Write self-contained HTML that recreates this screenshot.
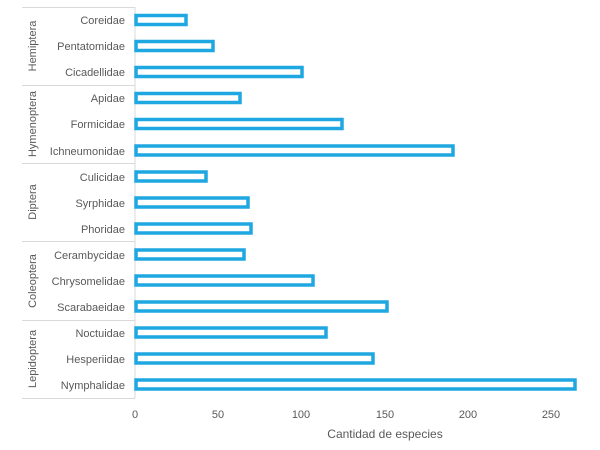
<!DOCTYPE html>
<html><head><style>
body{margin:0;background:#fff;}
svg{display:block;font-family:"Liberation Sans",sans-serif;}
</style></head><body>
<svg width="600" height="450" xmlns="http://www.w3.org/2000/svg">
<g stroke="#d9d9d9" stroke-width="1">
<line x1="135" y1="7" x2="135" y2="398"/>
<line x1="22" y1="7.5" x2="135" y2="7.5"/>
<line x1="22" y1="85.5" x2="135" y2="85.5"/>
<line x1="22" y1="163.5" x2="135" y2="163.5"/>
<line x1="22" y1="241.5" x2="135" y2="241.5"/>
<line x1="22" y1="320.5" x2="135" y2="320.5"/>
<line x1="22" y1="398.5" x2="135" y2="398.5"/>
</g>
<g fill="#fff" stroke="#1ea7e1" stroke-width="3.5">
<rect x="136" y="15.5" width="50" height="9"/>
<rect x="136" y="41.5" width="77" height="9"/>
<rect x="136" y="67.5" width="166" height="9"/>
<rect x="136" y="93.5" width="104" height="9"/>
<rect x="136" y="119.5" width="206" height="9"/>
<rect x="136" y="146" width="317" height="9"/>
<rect x="136" y="172" width="70" height="9"/>
<rect x="136" y="198" width="112" height="9"/>
<rect x="136" y="224" width="115" height="9"/>
<rect x="136" y="250" width="108" height="9"/>
<rect x="136" y="276" width="177" height="9"/>
<rect x="136" y="302" width="251" height="9"/>
<rect x="136" y="328" width="190" height="9"/>
<rect x="136" y="354" width="237" height="9"/>
<rect x="136" y="380" width="439" height="9"/>
</g>
<g fill="#595959" font-size="11" text-anchor="end">
<text x="125" y="24">Coreidae</text>
<text x="125" y="50">Pentatomidae</text>
<text x="125" y="76">Cicadellidae</text>
<text x="125" y="102">Apidae</text>
<text x="125" y="128">Formicidae</text>
<text x="125" y="155">Ichneumonidae</text>
<text x="125" y="181">Culicidae</text>
<text x="125" y="207">Syrphidae</text>
<text x="125" y="233">Phoridae</text>
<text x="125" y="259">Cerambycidae</text>
<text x="125" y="285">Chrysomelidae</text>
<text x="125" y="311">Scarabaeidae</text>
<text x="125" y="337">Noctuidae</text>
<text x="125" y="363">Hesperiidae</text>
<text x="125" y="389">Nymphalidae</text>
</g>
<g fill="#595959" font-size="11" text-anchor="middle">
<text transform="translate(36,46) rotate(-90)">Hemiptera</text>
<text transform="translate(36,124) rotate(-90)">Hymenoptera</text>
<text transform="translate(36,202) rotate(-90)">Diptera</text>
<text transform="translate(36,281) rotate(-90)">Coleoptera</text>
<text transform="translate(36,359) rotate(-90)">Lepidoptera</text>
<text x="135" y="418">0</text>
<text x="218" y="418">50</text>
<text x="301" y="418">100</text>
<text x="385" y="418">150</text>
<text x="468" y="418">200</text>
<text x="551" y="418">250</text>
<text x="385" y="438" font-size="12">Cantidad de especies</text>
</g>
</svg>
</body></html>
